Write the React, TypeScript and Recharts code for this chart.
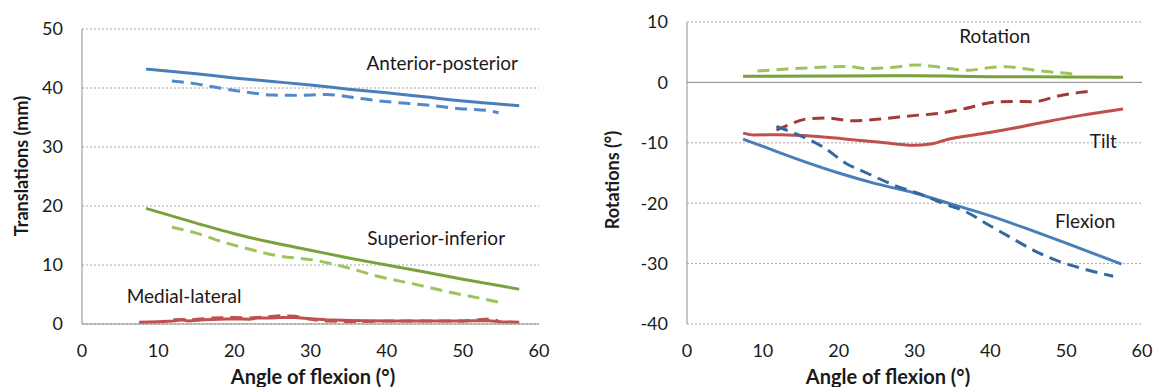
import {
  CartesianGrid,
  Label,
  Line,
  LineChart,
  ReferenceDot,
  ReferenceLine,
  XAxis,
  YAxis,
} from 'recharts';

type Pt = { angle: number; value: number };

// Translations (mm)
const apSolid: Pt[] = [
  { angle: 8.4, value: 43.2 }, { angle: 15, value: 42.4 }, { angle: 20, value: 41.7 },
  { angle: 25, value: 41.1 }, { angle: 30, value: 40.5 }, { angle: 35, value: 39.8 },
  { angle: 40, value: 39.2 }, { angle: 45, value: 38.5 }, { angle: 50, value: 37.8 },
  { angle: 57.4, value: 37.0 },
];
const apDashed: Pt[] = [
  { angle: 11.8, value: 41.2 }, { angle: 15, value: 40.7 }, { angle: 18.5, value: 39.9 },
  { angle: 21.6, value: 39.3 }, { angle: 25.1, value: 38.8 }, { angle: 28.2, value: 38.75 },
  { angle: 32.1, value: 38.9 }, { angle: 35.6, value: 38.4 }, { angle: 39.1, value: 37.8 },
  { angle: 42.6, value: 37.4 }, { angle: 46.1, value: 37.0 }, { angle: 49.6, value: 36.5 },
  { angle: 53.1, value: 36.2 }, { angle: 54.7, value: 35.8 },
];
const siSolid: Pt[] = [
  { angle: 8.4, value: 19.6 }, { angle: 15, value: 17.1 }, { angle: 20, value: 15.3 },
  { angle: 25, value: 13.8 }, { angle: 30, value: 12.5 }, { angle: 35, value: 11.2 },
  { angle: 40, value: 10.0 }, { angle: 45, value: 8.8 }, { angle: 50, value: 7.6 },
  { angle: 57.4, value: 5.9 },
];
const siDashed: Pt[] = [
  { angle: 11.8, value: 16.4 }, { angle: 15, value: 15.4 }, { angle: 18.5, value: 13.9 },
  { angle: 21.6, value: 12.8 }, { angle: 26, value: 11.5 }, { angle: 30.4, value: 10.85 },
  { angle: 34.7, value: 9.6 }, { angle: 39.1, value: 8.0 }, { angle: 43.5, value: 6.8 },
  { angle: 47.9, value: 5.5 }, { angle: 52.3, value: 4.35 }, { angle: 54.7, value: 3.7 },
];
const mlSolid: Pt[] = [
  { angle: 7.5, value: 0.3 }, { angle: 10, value: 0.4 }, { angle: 12, value: 0.5 },
  { angle: 13, value: 0.7 }, { angle: 14, value: 0.5 }, { angle: 16, value: 0.7 },
  { angle: 18, value: 0.8 }, { angle: 20, value: 0.9 }, { angle: 22, value: 0.8 },
  { angle: 23, value: 1.0 }, { angle: 25, value: 1.0 }, { angle: 26, value: 1.1 },
  { angle: 28, value: 1.1 }, { angle: 30, value: 0.9 }, { angle: 32, value: 0.7 },
  { angle: 35, value: 0.6 }, { angle: 40, value: 0.5 }, { angle: 45, value: 0.5 },
  { angle: 50, value: 0.5 }, { angle: 53, value: 0.6 }, { angle: 55, value: 0.4 },
  { angle: 57.4, value: 0.3 },
];
const mlDashed: Pt[] = [
  { angle: 12, value: 0.7 }, { angle: 15, value: 0.8 }, { angle: 17, value: 1.0 },
  { angle: 20, value: 1.1 }, { angle: 22, value: 1.0 }, { angle: 24, value: 1.2 },
  { angle: 26, value: 1.4 }, { angle: 28, value: 1.3 }, { angle: 30, value: 0.8 },
  { angle: 32, value: 0.5 }, { angle: 35, value: 0.4 }, { angle: 40, value: 0.5 },
  { angle: 45, value: 0.5 }, { angle: 50, value: 0.5 }, { angle: 52, value: 0.7 },
  { angle: 54, value: 0.9 }, { angle: 54.7, value: 0.4 },
];

// Rotations (°)
const rotSolid: Pt[] = [
  { angle: 7.4, value: 1.0 }, { angle: 20, value: 1.05 }, { angle: 30, value: 1.1 },
  { angle: 40, value: 0.95 }, { angle: 50, value: 0.9 }, { angle: 57.5, value: 0.85 },
];
const rotDashed: Pt[] = [
  { angle: 9.3, value: 1.9 }, { angle: 13.1, value: 2.2 }, { angle: 17.5, value: 2.5 },
  { angle: 21.1, value: 2.65 }, { angle: 23.7, value: 2.3 }, { angle: 27.2, value: 2.5 },
  { angle: 30.3, value: 2.9 }, { angle: 33.4, value: 2.5 }, { angle: 36.9, value: 2.0 },
  { angle: 40.4, value: 2.5 }, { angle: 42.2, value: 2.6 }, { angle: 44.8, value: 2.2 },
  { angle: 47.4, value: 1.8 }, { angle: 50.1, value: 1.5 }, { angle: 51.6, value: 1.3 },
];
const tiltSolid: Pt[] = [
  { angle: 7.4, value: -8.4 }, { angle: 8.8, value: -8.7 }, { angle: 12.3, value: -8.65 },
  { angle: 16.7, value: -8.9 }, { angle: 21.1, value: -9.4 }, { angle: 25.5, value: -9.9 },
  { angle: 29.8, value: -10.4 }, { angle: 32.1, value: -10.2 }, { angle: 34.2, value: -9.5 },
  { angle: 38.6, value: -8.55 }, { angle: 43, value: -7.6 }, { angle: 47.4, value: -6.5 },
  { angle: 51.8, value: -5.5 }, { angle: 57.5, value: -4.4 },
];
const tiltDashed: Pt[] = [
  { angle: 11.8, value: -7.9 }, { angle: 13.1, value: -7.2 }, { angle: 15.8, value: -6.05 },
  { angle: 18.4, value: -5.9 }, { angle: 21.9, value: -6.35 }, { angle: 25.5, value: -6.05 },
  { angle: 29.8, value: -5.5 }, { angle: 33.4, value: -5.1 }, { angle: 36.4, value: -4.4 },
  { angle: 40.4, value: -3.3 }, { angle: 43, value: -3.15 }, { angle: 45.7, value: -3.2 },
  { angle: 48.8, value: -2.3 }, { angle: 51.8, value: -1.65 }, { angle: 53.6, value: -1.4 },
];
const flexSolid: Pt[] = [
  { angle: 7.4, value: -9.4 }, { angle: 10, value: -10.6 }, { angle: 15, value: -12.9 },
  { angle: 20, value: -15.0 }, { angle: 25, value: -16.8 }, { angle: 30, value: -18.3 },
  { angle: 35, value: -20.2 }, { angle: 40, value: -22.1 }, { angle: 45, value: -24.3 },
  { angle: 50, value: -26.6 }, { angle: 57.3, value: -30.1 },
];
const flexDashed: Pt[] = [
  { angle: 11.8, value: -7.3 }, { angle: 14.9, value: -8.8 }, { angle: 18, value: -10.75 },
  { angle: 21.1, value: -13.5 }, { angle: 23.7, value: -15.0 }, { angle: 27.7, value: -17.2 },
  { angle: 30.8, value: -18.5 }, { angle: 33.4, value: -19.85 }, { angle: 36.9, value: -21.5 },
  { angle: 39.9, value: -23.7 }, { angle: 43, value: -25.9 }, { angle: 45.7, value: -27.8 },
  { angle: 48.8, value: -29.5 }, { angle: 51.8, value: -30.7 }, { angle: 56.2, value: -32.1 },
];

const angleTicks = [0, 10, 20, 30, 40, 50, 60];
const translationTicks = [0, 10, 20, 30, 40, 50];
const rotationTicks = [-40, -30, -20, -10, 0, 10];

const FONT = 'Lato, "Open Sans", sans-serif';
const TEXT = '#1a1a1a';
const AXIS = '#8c8c8c';
const GRID = '#a6a6a6';
const DASH = '12 7';

const BLUE = '#4a7ebb';
const BLUE_LIGHT = '#5288cc';
const BLUE_DARK = '#35689f';
const GREEN = '#77a23c';
const GREEN_LIGHT = '#9cc45c';
const RED = '#c0504d';
const RED_DARK = '#a23b38';

const tickStyle = { fill: TEXT, fontSize: 18, fontFamily: FONT };

function annotation(text: string) {
  return {
    value: text,
    position: 'center' as const,
    fill: TEXT,
    fontSize: 19,
    fontFamily: FONT,
  };
}

function xTitle(cx: number) {
  return () => (
    <text x={cx} y={384} textAnchor="middle" fill={TEXT} fontSize={20} fontWeight="bold" fontFamily={FONT}>
      Angle of flexion (°)
    </text>
  );
}

function yTitle(cx: number, cy: number, text: string) {
  return () => (
    <text
      x={cx}
      y={cy}
      textAnchor="middle"
      dominantBaseline="central"
      transform={`rotate(-90 ${cx} ${cy})`}
      fill={TEXT}
      fontSize={18}
      fontWeight="bold"
      fontFamily={FONT}
    >
      {text}
    </text>
  );
}

function series(data: Pt[], color: string, dashed: boolean, key: string, smooth = true) {
  return (
    <Line
      key={key}
      data={data}
      dataKey="value"
      type={smooth ? 'monotone' : 'linear'}
      stroke={color}
      strokeWidth={3}
      strokeDasharray={dashed ? DASH : undefined}
      dot={false}
      activeDot={false}
      isAnimationActive={false}
    />
  );
}

function TranslationsChart() {
  return (
    <LineChart width={580} height={387} margin={{ top: 29, right: 41, bottom: 33, left: 32 }}>
      <CartesianGrid horizontal vertical={false} stroke={GRID} strokeDasharray="2 2" />
      <XAxis
        type="number"
        dataKey="angle"
        domain={[0, 60]}
        ticks={angleTicks}
        allowDuplicatedCategory={false}
        height={30}
        stroke={AXIS}
        tickLine={false}
        tickSize={0}
        tickMargin={20}
        tick={tickStyle}
      >
        <Label content={xTitle(313)} />
      </XAxis>
      <YAxis
        type="number"
        domain={[0, 50]}
        ticks={translationTicks}
        width={50}
        stroke={AXIS}
        tickLine={false}
        tickSize={0}
        tickMargin={19}
        tick={tickStyle}
      >
        <Label content={yTitle(21, 166, 'Translations (mm)')} />
      </YAxis>
      {series(apSolid, BLUE, false, 'ap-s')}
      {series(apDashed, BLUE_LIGHT, true, 'ap-d')}
      {series(siSolid, GREEN, false, 'si-s')}
      {series(siDashed, GREEN_LIGHT, true, 'si-d')}
      {series(mlSolid, RED, false, 'ml-s', false)}
      {series(mlDashed, RED, true, 'ml-d', false)}
      <ReferenceDot x={47.3} y={44.2} r={0} fill="none" stroke="none" label={annotation('Anterior-posterior')} />
      <ReferenceDot x={46.5} y={14.6} r={0} fill="none" stroke="none" label={annotation('Superior-inferior')} />
      <ReferenceDot x={13.4} y={4.7} r={0} fill="none" stroke="none" label={annotation('Medial-lateral')} />
    </LineChart>
  );
}

function RotationsChart() {
  return (
    <LineChart width={575} height={387} margin={{ top: 22, right: 13, bottom: 33, left: 57 }}>
      <CartesianGrid horizontal vertical={false} stroke={GRID} strokeDasharray="2 2" />
      <XAxis
        type="number"
        dataKey="angle"
        domain={[0, 60]}
        ticks={angleTicks}
        allowDuplicatedCategory={false}
        height={30}
        axisLine={false}
        tickLine={false}
        tickSize={0}
        tickMargin={20}
        tick={tickStyle}
      >
        <Label content={xTitle(308)} />
      </XAxis>
      <YAxis
        type="number"
        domain={[-40, 10]}
        ticks={rotationTicks}
        width={50}
        stroke={AXIS}
        tickLine={false}
        tickSize={0}
        tickMargin={19}
        tick={tickStyle}
      >
        <Label content={yTitle(32, 180, 'Rotations (°)')} />
      </YAxis>
      <ReferenceLine y={0} stroke={AXIS} strokeWidth={1} />
      {series(rotSolid, GREEN, false, 'rot-s')}
      {series(rotDashed, GREEN_LIGHT, true, 'rot-d')}
      {series(tiltSolid, RED, false, 'tilt-s')}
      {series(tiltDashed, RED_DARK, true, 'tilt-d')}
      {series(flexSolid, BLUE, false, 'flex-s')}
      {series(flexDashed, BLUE_DARK, true, 'flex-d')}
      <ReferenceDot x={40.6} y={7.6} r={0} fill="none" stroke="none" label={annotation('Rotation')} />
      <ReferenceDot x={54.9} y={-9.8} r={0} fill="none" stroke="none" label={annotation('Tilt')} />
      <ReferenceDot x={52.5} y={-23} r={0} fill="none" stroke="none" label={annotation('Flexion')} />
    </LineChart>
  );
}

export default function App() {
  return (
    <div style={{ position: 'absolute', left: 0, top: 0, width: 1155, height: 387, background: '#fff' }}>
      <div style={{ position: 'absolute', left: 0, top: 0 }}>
        <TranslationsChart />
      </div>
      <div style={{ position: 'absolute', left: 580, top: 0 }}>
        <RotationsChart />
      </div>
    </div>
  );
}
